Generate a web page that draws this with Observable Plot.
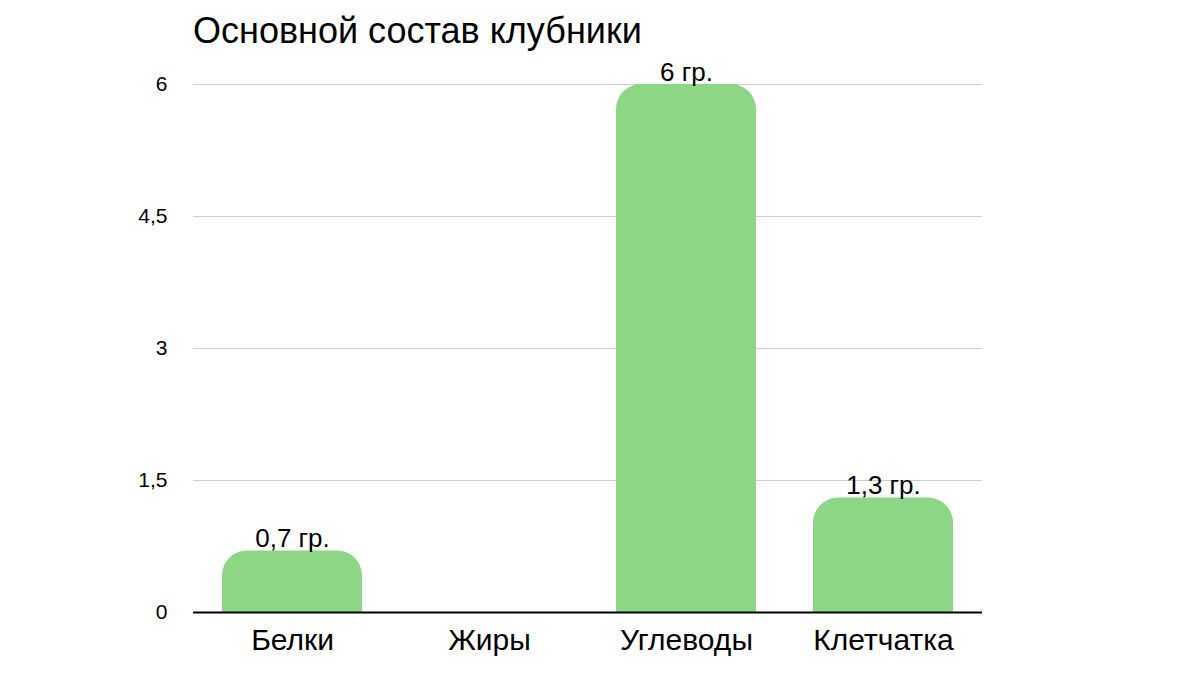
<!DOCTYPE html>
<html><head><meta charset="utf-8">
<script src="https://cdn.jsdelivr.net/npm/d3@7"></script>
<script src="https://cdn.jsdelivr.net/npm/@observablehq/plot@0.6"></script>
<style>
body{margin:0;background:#fff;font-family:"Liberation Sans",Arial,sans-serif;}
#title{height:50px;box-sizing:border-box;padding-left:193px;padding-top:10px;font-size:36px;line-height:42px;color:#000;white-space:nowrap;}
svg{display:block;}
</style></head><body>
<div id="title">Основной состав клубники</div>
<div id="chart"></div>
<script>
const categories = ["Белки", "Жиры", "Углеводы", "Клетчатка"];
const values = [0.7, 0, 6, 1.3];
const labels = ["0,7 гр.", "", "6 гр.", "1,3 гр."];
const yTicks = [0, 1.5, 3, 4.5, 6];

const data = categories.map((c, i) => ({cat: c, value: values[i], label: labels[i]}));
const fill = "#8dd686";
const fmt = d => String(d).replace(".", ",");

const chart = Plot.plot({
  width: 1200,
  height: 635,
  marginTop: 34,
  marginBottom: 73,
  marginLeft: 193,
  marginRight: 218,
  style: {fontFamily: "'Liberation Sans', Arial, sans-serif", color: "#000", background: "#fff", overflow: "visible"},
  x: {domain: categories, paddingInner: 0.29, paddingOuter: 0.145, label: null},
  y: {domain: [0, 6], label: null},
  marks: [
    Plot.gridY(yTicks, {stroke: "#cccccc", strokeOpacity: 1, strokeWidth: 1}),
    Plot.axisY(yTicks, {tickSize: 0, tickPadding: 26, fontSize: 21, tickFormat: fmt, label: null}),
    Plot.barY(data.filter(d => d.value > 0), {x: "cat", y: "value", fill, rx: 25}),
    Plot.barY(data.filter(d => d.value > 0), {x: "cat", y1: 0, y2: d => d.value / 2, fill}),
    Plot.ruleY([0], {stroke: "#000", strokeWidth: 2}),
    Plot.axisX({tickSize: 0, tickPadding: 16, fontSize: 30, label: null}),
    Plot.text(data.filter(d => d.value > 0), {x: "cat", y: "value", text: "label", lineAnchor: "bottom", dy: -4, fontSize: 26, fill: "#000"})
  ]
});
document.getElementById("chart").appendChild(chart);
</script>
</body></html>
